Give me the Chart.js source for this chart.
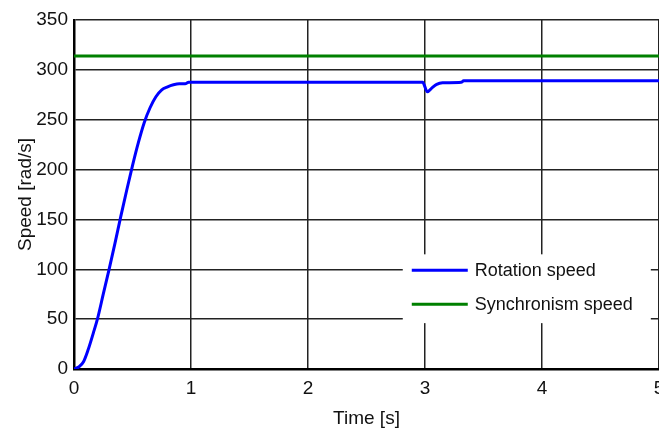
<!DOCTYPE html>
<html>
<head>
<meta charset="utf-8">
<script src="https://cdn.jsdelivr.net/npm/chart.js@4"></script>
<style>
  html, body { margin: 0; padding: 0; background: #fff; }
  #wrap { width: 659px; height: 432px; position: relative; }
</style>
</head>
<body>
<div id="wrap"><canvas id="chart"></canvas></div>
<script>
// values
const timeSec = [0, 0.04, 0.08, 0.12, 0.165, 0.2, 0.25, 0.3, 0.35, 0.4, 0.45, 0.5, 0.55, 0.6, 0.65, 0.7, 0.75, 0.8, 0.85, 0.9, 0.95, 0.98, 1.5, 2.0, 2.5, 2.98, 3.02, 3.06, 3.1, 3.15, 3.31, 3.33, 4.0, 5.0];
const rotationSpeed = [0, 2, 7, 19, 36, 50, 75, 100, 126, 153, 179, 204, 227, 247, 262, 273, 280, 283, 285, 286, 286, 287.5, 287.5, 287.5, 287.5, 287.5, 278, 282, 285.5, 287, 287.5, 289, 289, 289];
const syncTime = [0, 5];
const syncSpeed = [314, 314];
const xTicks = [0, 1, 2, 3, 4, 5];
const yTicks = [0, 50, 100, 150, 200, 250, 300, 350];

const FONT = "'Liberation Sans', Arial, sans-serif";

const toPoints = (xs, ys) => xs.map((x, i) => ({ x: x, y: ys[i] }));

// white legend box inside the plot, like the matlab one
const legendBox = {
  id: "legendBox",
  afterDatasetsDraw(chart) {
    const ctx = chart.ctx;
    const xs = chart.scales.x;
    const ys = chart.scales.y;
    const left = xs.getPixelForValue(2.81);
    const right = xs.getPixelForValue(4.93);
    const top = ys.getPixelForValue(115);
    const bottom = ys.getPixelForValue(46);
    ctx.save();
    ctx.fillStyle = "#fff";
    ctx.fillRect(left, top, right - left, bottom - top);
    ctx.font = "18px " + FONT;
    ctx.textBaseline = "middle";
    chart.data.datasets.forEach((ds, i) => {
      const y = top + 16 + i * 34;
      ctx.strokeStyle = ds.borderColor;
      ctx.lineWidth = 3;
      ctx.beginPath();
      ctx.moveTo(left + 9, y);
      ctx.lineTo(left + 65, y);
      ctx.stroke();
      ctx.fillStyle = "#111";
      ctx.fillText(ds.label, left + 72, y + 1);
    });
    ctx.restore();
  }
};

new Chart(document.getElementById("chart"), {
  type: "line",
  data: {
    datasets: [
      {
        label: "Rotation speed",
        data: toPoints(timeSec, rotationSpeed),
        borderColor: "#0000ff",
        borderWidth: 3,
        pointRadius: 0,
        fill: false,
        cubicInterpolationMode: "monotone",
      },
      {
        label: "Synchronism speed",
        data: toPoints(syncTime, syncSpeed),
        borderColor: "#008000",
        borderWidth: 3,
        pointRadius: 0,
        fill: false,
      },
    ],
  },
  options: {
    responsive: true,
    maintainAspectRatio: false,
    animation: false,
    layout: { padding: { top: 20, left: 0, right: 0, bottom: 0 } },
    plugins: {
      legend: { display: false },
      tooltip: { enabled: false },
    },
    scales: {
      x: {
        type: "linear",
        min: 0,
        max: 5,
        afterBuildTicks: (scale) => { scale.ticks = xTicks.map((v) => ({ value: v })); },
        afterFit: (scale) => { scale.height = 63; scale.paddingRight = 0; scale.paddingLeft = 0; },
        ticks: { color: "#111", font: { family: FONT, size: 19 }, padding: 8, maxRotation: 0 },
        grid: { color: "#222", lineWidth: 1.5, drawTicks: false },
        border: { color: "#000", width: 2.5 },
        title: { display: true, text: "Time [s]", color: "#111", font: { family: FONT, size: 19 }, padding: { top: 0, bottom: 2 } },
      },
      y: {
        min: 0,
        max: 350,
        afterBuildTicks: (scale) => { scale.ticks = yTicks.map((v) => ({ value: v })); },
        afterFit: (scale) => { scale.width = 74; },
        ticks: { color: "#111", font: { family: FONT, size: 19 }, padding: 6 },
        grid: { color: "#222", lineWidth: 1.5, drawTicks: false },
        border: { color: "#000", width: 2.5 },
        title: { display: true, text: "Speed [rad/s]", color: "#111", font: { family: FONT, size: 19 }, padding: { top: 14, bottom: 0 } },
      },
    },
  },
  plugins: [legendBox],
});
</script>
</body>
</html>
